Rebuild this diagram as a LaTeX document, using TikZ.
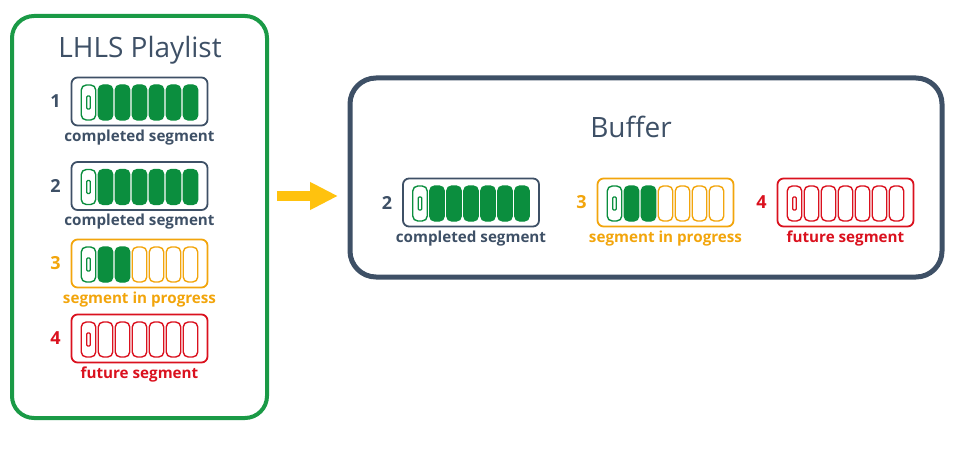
\documentclass[tikz,border=0pt]{standalone}
\usepackage{fontspec}
\setmainfont{Open Sans}
\usetikzlibrary{arrows.meta,calc}
\definecolor{slate}{HTML}{3E5066}
\definecolor{seggreen}{HTML}{0B8E3E}
\definecolor{framegreen}{HTML}{1A9A46}
\definecolor{amber}{HTML}{F2A50C}
\definecolor{segred}{HTML}{DA111E}
\definecolor{arrowyellow}{HTML}{FFC20E}
\tikzset{
  frame/.style={draw, rounded corners=6pt, line width=1.8pt, minimum width=136pt, minimum height=48pt, inner sep=0pt},
  cellbox/.style={rounded corners=5pt, line width=1.4pt, minimum width=14.5pt, minimum height=35pt, inner sep=0pt},
  marker/.style={draw, line width=1.1pt, minimum width=3.5pt, minimum height=13pt, inner sep=0pt, rounded corners=1pt},
  num/.style={font=\fontsize{18}{18}\selectfont\bfseries, inner sep=0pt},
  lbl/.style={font=\fontsize{15.2}{15}\selectfont\bfseries, inner sep=0pt},
  title/.style={font=\fontsize{28}{28}\selectfont, text=slate, inner sep=0pt},
  bigbox/.style={draw, inner sep=0pt},
  flow/.style={draw=arrowyellow, line width=10pt, -{Triangle[length=28pt,width=26pt]}},
}
% name, x, y, frame colour, filled count, empty colour, first-cell colour, number, label
\newcommand{\segment}[9]{%
  \node[frame, draw=#4] (#1) at (#2,#3) {};
  \node[cellbox, draw=#7] (#1-c0) at ($(#1.center)+(-51,1)$) {};
  \node[marker, draw=#7] (#1-m) at (#1-c0.center) {};
  \foreach \i in {1,...,6}{%
    \ifnum\i>#5\relax
      \node[cellbox, draw=#6] (#1-c\i) at ($(#1.center)+(\i*17-51,1)$) {};
    \else
      \node[cellbox, draw=seggreen, fill=seggreen] (#1-c\i) at ($(#1.center)+(\i*17-51,1)$) {};
    \fi
  }
  \node[num, text=#4] (#1-n) at ($(#1.center)+(-84,0)$) {#8};
  \node[lbl, text=#4] (#1-l) at ($(#1.center)+(0,36)$) {#9};
}
\begin{document}
\begin{tikzpicture}[x=1pt,y=-1pt]
\useasboundingbox (0,0) rectangle (973,473);
\node[bigbox, draw=framegreen, line width=4pt, rounded corners=22pt, minimum width=255pt, minimum height=402pt] (lhls) at (139.5,217) {};
\node[bigbox, draw=slate, line width=5pt, rounded corners=26pt, minimum width=592pt, minimum height=199pt] (buf) at (646,177.5) {};
\node[title] (lhlst) at (140,50) {LHLS Playlist};
\node[title] (buft) at (631,127) {Buffer};

\segment{p1}{139.5}{101.5}{slate}{6}{segred}{seggreen}{1}{completed segment}
\segment{p2}{139.5}{186}{slate}{6}{segred}{seggreen}{2}{completed segment}
\segment{p3}{139.5}{263.5}{amber}{2}{amber}{seggreen}{3}{segment in progress}
\segment{p4}{139.5}{338.5}{segred}{0}{segred}{segred}{4}{future segment}

\segment{b2}{471}{202.5}{slate}{6}{segred}{seggreen}{2}{completed segment}
\segment{b3}{665.5}{202.5}{amber}{2}{amber}{seggreen}{3}{segment in progress}
\segment{b4}{845.5}{202.5}{segred}{0}{segred}{segred}{4}{future segment}

\coordinate (a1) at (277,196);
\coordinate (a2) at (338,196);
\draw[flow] (a1) -- (a2);
\end{tikzpicture}
\end{document}
